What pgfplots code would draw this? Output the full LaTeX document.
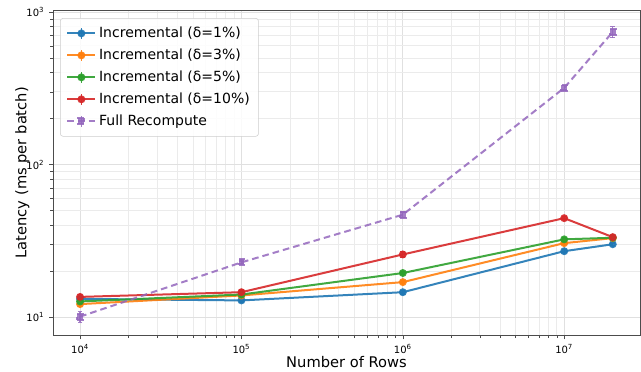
\documentclass[border=0pt]{standalone}
\usepackage{pgfplots}
\pgfplotsset{compat=1.18}
\usepackage{fontspec}
\setmainfont{DejaVu Sans}
\definecolor{tblue}{HTML}{1F77B4}
\definecolor{torange}{HTML}{FF7F0E}
\definecolor{tgreen}{HTML}{2CA02C}
\definecolor{tred}{HTML}{D62728}
\definecolor{tpurple}{HTML}{9467BD}
\begin{document}
\begin{tikzpicture}
\begin{axis}[
  xmode=log, ymode=log,
  scale only axis,
  width=440pt, height=244pt,
  xmin=6.8e3, xmax=2.95e7,
  ymin=7.6, ymax=1030,
  xtick={1e4,1e5,1e6,1e7},
  xticklabels={10\textsuperscript{4},10\textsuperscript{5},10\textsuperscript{6},10\textsuperscript{7}},
  ytick={10,100,1000},
  yticklabels={10\textsuperscript{1},10\textsuperscript{2},10\textsuperscript{3}},
  tick label style={font=\fontsize{7.5}{9}\selectfont},
  xlabel={Number of Rows},
  ylabel={Latency (ms per batch)},
  label style={font=\fontsize{11}{13}\selectfont},
  xlabel style={yshift=5pt},
  ylabel style={yshift=-9pt},
  grid=both,
  major grid style={line width=0.5pt, draw=black!12},
  minor grid style={line width=0.5pt, draw=black!8},
  tick align=outside,
  xtick pos=left, ytick pos=left,
  major tick length=3pt, minor tick length=2pt,
  every tick/.style={black!70},
  axis line style={black!70},
  legend style={at={(0.012,0.975)}, anchor=north west, rounded corners=2pt,
    draw=black!20, fill=white, fill opacity=0.85, text opacity=1,
    font=\fontsize{10.5}{12}\selectfont, row sep=3pt, inner sep=4.5pt},
  legend cell align=left,
  legend image code/.code={
    \draw[line width=1.5pt, mark repeat=2,mark phase=2] plot coordinates {(0cm,0cm)(0.37cm,0cm)(0.74cm,0cm)};
    \draw[solid, line width=1pt] (0.37cm,-0.14cm)--(0.37cm,0.14cm);
  },
  every axis plot/.append style={line width=1.5pt, mark size=2.2pt,
    error bars/y dir=both, error bars/y explicit,
    error bars/error bar style={line width=0.9pt, solid},
    error bars/error mark options={rotate=90, mark size=1.8pt, line width=0.9pt}},
]
\addplot[tblue, mark=*, opacity=0.9] coordinates {
  (1e4,13.2) +- (0,0.4) (1e5,12.9) +- (0,0.3) (1e6,14.6) +- (0,0.4) (1e7,27.1) +- (0,0.6) (2e7,30.1) +- (0,0.6)};
\addlegendentry{Incremental (δ=1\%)}
\addplot[torange, mark=*, opacity=0.9] coordinates {
  (1e4,12.2) +- (0,0.4) (1e5,13.9) +- (0,0.3) (1e6,17.0) +- (0,0.4) (1e7,30.6) +- (0,0.6) (2e7,33.0) +- (0,0.6)};
\addlegendentry{Incremental (δ=3\%)}
\addplot[tgreen, mark=*, opacity=0.9] coordinates {
  (1e4,12.7) +- (0,0.4) (1e5,14.1) +- (0,0.3) (1e6,19.5) +- (0,0.5) (1e7,32.4) +- (0,0.7) (2e7,33.2) +- (0,0.6)};
\addlegendentry{Incremental (δ=5\%)}
\addplot[tred, mark=*, opacity=0.9] coordinates {
  (1e4,13.6) +- (0,0.5) (1e5,14.6) +- (0,0.5) (1e6,25.8) +- (0,1.3) (1e7,44.6) +- (0,1.0) (2e7,33.5) +- (0,0.8)};
\addlegendentry{Incremental (δ=10\%)}
\addplot[tpurple, mark=square*, dashed, dash pattern=on 5pt off 3pt, opacity=0.85] coordinates {
  (1e4,10.1) +- (0,0.8) (1e5,22.9) +- (0,0.5) (1e6,47.0) +- (0,2.0) (1e7,318) +- (0,10) (2e7,740) +- (0,60)};
\addlegendentry{Full Recompute}
\end{axis}
\path ([shift={(-39.75pt,-24.75pt)}]current axis.south west) rectangle ([shift={(0.75pt,7.5pt)}]current axis.north east);
\end{tikzpicture}
\end{document}
